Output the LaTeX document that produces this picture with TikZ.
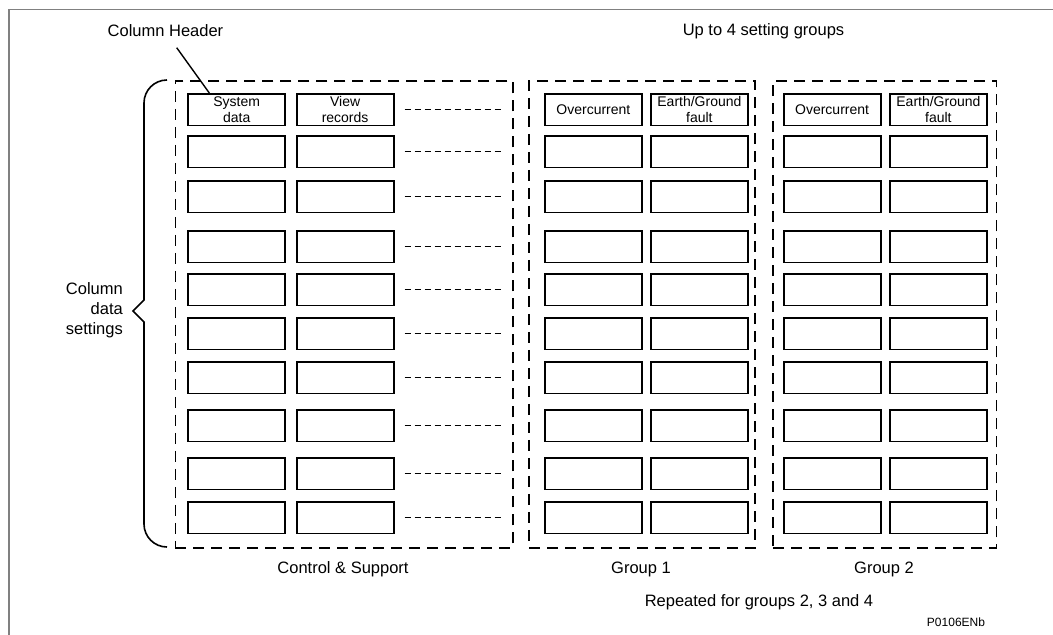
\documentclass[tikz,border=0pt]{standalone}
\usepackage{fontspec}
\setmainfont{Liberation Sans}
\usetikzlibrary{calc}
\begin{document}
\begin{tikzpicture}[x=1pt,y=-1pt,
  cell/.style={draw, line width=1.8pt, inner sep=0pt, minimum width=97pt, minimum height=31.5pt,
    anchor=north west, align=center, font=\fontsize{14}{16}\selectfont},
  container/.style={draw, line width=1.7pt, dash pattern=on 11pt off 7pt, inner sep=0pt, anchor=north west},
  dline/.style={line width=1.6pt, dash pattern=on 6pt off 4pt},
  lbl/.style={font=\fontsize{16.5}{20}\selectfont, inner sep=0pt},
  frame/.style={draw=black!50, line width=1.6pt}]
\useasboundingbox (0,0) rectangle (1053,635);
% frame
\draw[frame] (8.7,635) -- (8.7,9.5) -- (1053,9.5);
% containers
\node[container, minimum width=337.5pt, minimum height=467pt] (cs) at (174.5,80) {};
\node[container, minimum width=226pt, minimum height=467pt] (ga) at (528.3,80) {};
\node[container, minimum width=223.4pt, minimum height=467pt] (gb) at (772.3,80) {};
% header row
\node[cell] (cs-1-1) at (187.3,93) {System\\data};
\node[cell] (cs-1-2) at (295.7,93) {View\\records};
\node[cell] (ga-1-1) at (544,93) {Overcurrent};
\node[cell] (ga-1-2) at (650,93) {Earth/Ground\\fault};
\node[cell] (gb-1-1) at (782.7,93) {Overcurrent};
\node[cell] (gb-1-2) at (889,93) {Earth/Ground\\fault};
% other rows
\foreach \t [count=\r from 2] in {135,180,230,273,317,361,409,457,501}{
  \foreach \g/\xa/\xb in {cs/187.3/295.7, ga/544/650, gb/782.7/889}{
    \node[cell] (\g-\r-1) at (\xa,\t) {};
    \node[cell] (\g-\r-2) at (\xb,\t) {};
  }
}
% dashed continuation lines
\foreach \r in {1,...,10}{
  \draw[dline] ($(cs-\r-2.east)+(10,0)$) -- ($(cs-\r-2.east)+(109,0)$);
}
% labels
\node[lbl] (hdr) at (165.5,31) {Column Header};
\node[lbl] (upto) at (763.5,31) {Up to 4 setting groups};
\node[lbl] (lcs) at (343,569) {Control \& Support};
\node[lbl] (lga) at (641,569) {Group 1};
\node[lbl] (lgb) at (884,569) {Group 2};
\node[lbl] (rep) at (759,602) {Repeated for groups 2, 3 and 4};
\node[font=\fontsize{12}{14}\selectfont, inner sep=0pt] (code) at (956,622) {P0106ENb};
\node[lbl, align=right, anchor=east] (cds) at (123,310) {Column\\data\\settings};
% leader
\coordinate (hl) at (176.7,47.7);
\draw[line width=1.4pt] (hl) -- ($(cs-1-1.north west)+(22,0)$);
% brace
\coordinate (btop) at (167,80);
\coordinate (bbot) at (167,547);
\coordinate (btip) at (133,311);
\draw[line width=1.6pt] (btop) arc[start angle=90, end angle=180, radius=23pt] -- (144,300) -- (btip) -- (144,322) -- (144,524) arc[start angle=180, end angle=270, radius=23pt];
\end{tikzpicture}
\end{document}
